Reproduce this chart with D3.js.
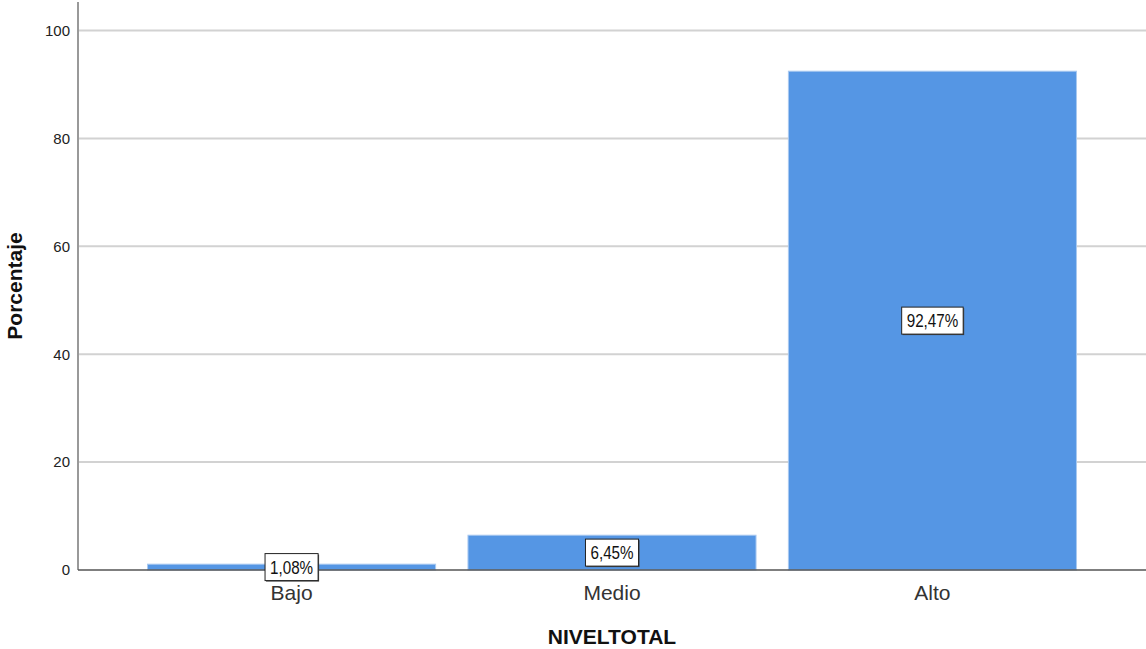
<!DOCTYPE html>
<html>
<head>
<meta charset="utf-8">
<script src="https://cdn.jsdelivr.net/npm/d3@7"></script>
<style>
  body { margin: 0; background: #fff; }
  svg { display: block; font-family: "Liberation Sans", Arial, sans-serif; }
</style>
</head>
<body>
<script>
// data
var categories = ["Bajo", "Medio", "Alto"];
var values = [1.08, 6.45, 92.47];
var labels = ["1,08%", "6,45%", "92,47%"];
var yTicks = [0, 20, 40, 60, 80, 100];

var w = 1146, h = 649;
var plotLeft = 78, plotRight = 1146, plotTop = 2, plotBottom = 570;

var svg = d3.select("body").append("svg")
    .attr("width", w)
    .attr("height", h);

var x = d3.scaleBand()
    .domain(categories)
    .range([plotLeft, plotRight])
    .paddingInner(0.101)
    .paddingOuter(0.217);

var y = d3.scaleLinear()
    .domain([0, 105.3])
    .range([plotBottom, plotTop]);

// gridlines
svg.append("g")
    .selectAll("line")
    .data(yTicks.filter(function(d) { return d > 0; }))
    .enter().append("line")
    .attr("x1", plotLeft)
    .attr("x2", plotRight)
    .attr("y1", function(d) { return y(d); })
    .attr("y2", function(d) { return y(d); })
    .attr("stroke", "#d2d2d2")
    .attr("stroke-width", 2);

// y axis
var yAxis = svg.append("g")
    .attr("transform", "translate(" + plotLeft + ",0)")
    .call(d3.axisLeft(y).tickValues(yTicks).tickSize(0).tickPadding(8));
yAxis.select(".domain").remove();
yAxis.selectAll("text")
    .attr("font-size", 15)
    .attr("fill", "#222")
    .attr("font-family", "Liberation Sans, Arial, sans-serif");

svg.append("line")
    .attr("x1", plotLeft).attr("x2", plotLeft)
    .attr("y1", plotTop).attr("y2", plotBottom)
    .attr("stroke", "#999")
    .attr("stroke-width", 2);

// bars
svg.append("g")
    .selectAll("rect")
    .data(values)
    .enter().append("rect")
    .attr("x", function(d, i) { return x(categories[i]); })
    .attr("y", function(d) { return y(d); })
    .attr("width", x.bandwidth())
    .attr("height", function(d) { return y(0) - y(d); })
    .attr("fill", "#5596e4")
    .attr("stroke", "#a9c9f0")
    .attr("stroke-width", 1);

// baseline
svg.append("line")
    .attr("x1", plotLeft).attr("x2", plotRight)
    .attr("y1", y(0)).attr("y2", y(0))
    .attr("stroke", "#555")
    .attr("stroke-width", 1.5);

// category labels
svg.append("g")
    .selectAll("text")
    .data(categories)
    .enter().append("text")
    .attr("x", function(d) { return x(d) + x.bandwidth() / 2; })
    .attr("y", 600)
    .attr("text-anchor", "middle")
    .attr("font-size", 21)
    .attr("fill", "#333")
    .text(function(d) { return d; });

// value boxes in the middle of each bar
var boxes = svg.append("g")
    .selectAll("g")
    .data(values)
    .enter().append("g")
    .attr("transform", function(d, i) {
        var cx = x(categories[i]) + x.bandwidth() / 2;
        var cy = (y(0) + y(d)) / 2;
        return "translate(" + cx + "," + cy + ")";
    });

boxes.each(function(d, i) {
    var g = d3.select(this);
    var t = g.append("text")
        .attr("text-anchor", "middle")
        .attr("dy", "0.36em")
        .attr("font-size", 19)
        .attr("fill", "#111")
        .attr("transform", "scale(0.8,1)")
        .text(labels[i]);
    var bw = t.node().getComputedTextLength() * 0.8 + 10;
    var bh = 27;
    g.insert("rect", "text")
        .attr("x", -bw / 2 + 1)
        .attr("y", -bh / 2 + 1)
        .attr("width", bw)
        .attr("height", bh)
        .attr("fill", "#444");
    g.insert("rect", "text")
        .attr("x", -bw / 2)
        .attr("y", -bh / 2)
        .attr("width", bw)
        .attr("height", bh)
        .attr("fill", "#fff")
        .attr("stroke", "#222")
        .attr("stroke-width", 1);
});

// axis titles
svg.append("text")
    .attr("x", (plotLeft + plotRight) / 2)
    .attr("y", 644)
    .attr("text-anchor", "middle")
    .attr("font-size", 21)
    .attr("font-weight", "bold")
    .attr("fill", "#111")
    .text("NIVELTOTAL");

svg.append("text")
    .attr("transform", "translate(22,286) rotate(-90)")
    .attr("text-anchor", "middle")
    .attr("font-size", 21)
    .attr("font-weight", "bold")
    .attr("fill", "#111")
    .text("Porcentaje");
</script>
</body>
</html>
